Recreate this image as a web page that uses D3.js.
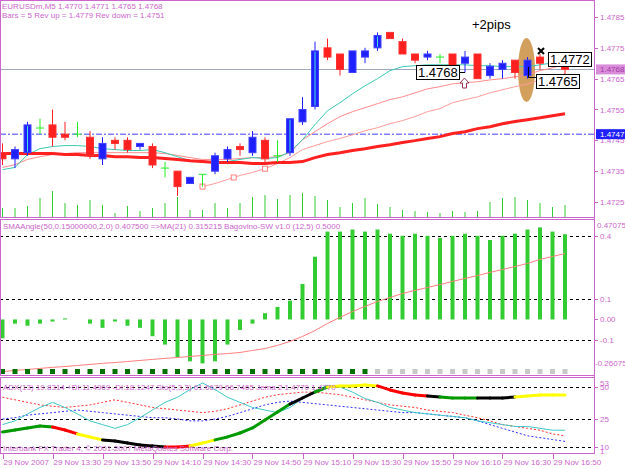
<!DOCTYPE html>
<html>
<head>
<meta charset="utf-8">
<script src="https://cdn.jsdelivr.net/npm/d3@7"></script>
<style>
  body { margin: 0; background: #fff; }
  svg { display: block; }
  text { font-family: "Liberation Sans", Arial, sans-serif; }
</style>
</head>
<body>
<div id="chart"></div>
<script>
// ===============================================================
// Data
// ===============================================================
const openP  = [1.4741,1.4739,1.4741,1.4749,1.4750,1.4747,1.4747,1.4746,1.4739,1.4745,1.4745,1.4743,1.4743,1.4736,1.4735,1.4731,1.4734,1.4735,1.4739,1.4743,1.4741,1.4745,1.4740,1.4741,1.4751,1.4756,1.4775,1.4773,1.4767,1.4772,1.4775,1.4780,1.4777,1.4773,1.4772,1.4772,1.4773,1.4770,1.4773,1.4766,1.4768,1.4771,1.4766,1.4772,1.4771,1.4770];
const highP  = [1.4744,1.4743,1.4751,1.4752,1.4755,1.4751,1.4751,1.4748,1.4746,1.4746,1.4746,1.4744,1.4744,1.4738,1.4735,1.4733,1.4734,1.4741,1.4743,1.4744,1.4748,1.4746,1.4745,1.4752,1.4759,1.4777,1.4778,1.4773,1.4774,1.4775,1.4780,1.4780,1.4778,1.4773,1.4774,1.4773,1.4773,1.4774,1.4773,1.4770,1.4771,1.4771,1.4772,1.4773,1.4772,1.4771];
const lowP   = [1.4737,1.4736,1.4740,1.4747,1.4743,1.4745,1.4746,1.4739,1.4737,1.4742,1.4741,1.4742,1.4736,1.4733,1.4727,1.4731,1.4730,1.4734,1.4738,1.4740,1.4740,1.4737,1.4738,1.4740,1.4750,1.4755,1.4771,1.4766,1.4767,1.4770,1.4774,1.4778,1.4773,1.4770,1.4771,1.4770,1.4765,1.4767,1.4765,1.4765,1.4765,1.4765,1.4765,1.4768,1.4770,1.4765];
const closeP = [1.4739,1.4742,1.4750,1.4749,1.4746,1.4746,1.4747,1.4740,1.4744,1.4744,1.4742,1.4744,1.4737,1.4736,1.4730,1.4733,1.4734,1.4740,1.4742,1.4742,1.4746,1.4739,1.4740,1.4752,1.4755,1.4774,1.4772,1.4768,1.4774,1.4774,1.4779,1.4778,1.4773,1.4771,1.4773,1.4772,1.4769,1.4772,1.4765,1.4769,1.4770,1.4767,1.4771,1.4770,1.4771,1.4768];
const volumes = [18,18,22,38,52,28,24,34,24,8,22,12,18,28,40,14,14,28,18,28,40,44,36,44,48,42,34,20,28,38,26,20,14,12,10,8,12,10,12,30,38,40,34,28,20,24];
const markedBars = [2,23,25,30];

const maFast  = [1.47355,1.47362,1.47404,1.47423,1.47430,1.47433,1.47433,1.47430,1.47423,1.47420,1.47417,1.47417,1.47420,1.47410,1.47397,1.47384,1.47378,1.47378,1.47381,1.47388,1.47394,1.47391,1.47394,1.47413,1.47452,1.47501,1.47546,1.47572,1.47601,1.47627,1.47650,1.47676,1.47689,1.47692,1.47695,1.47695,1.47695,1.47695,1.47692,1.47692,1.47689,1.47689,1.47689,1.47695,1.47701,1.47705];
const maMid   = [1.47362,1.47371,1.47388,1.47397,1.47404,1.47407,1.47410,1.47410,1.47410,1.47410,1.47410,1.47410,1.47410,1.47407,1.47401,1.47394,1.47388,1.47388,1.47388,1.47391,1.47394,1.47394,1.47397,1.47410,1.47452,1.47478,1.47504,1.47527,1.47543,1.47556,1.47569,1.47582,1.47591,1.47604,1.47617,1.47624,1.47633,1.47637,1.47640,1.47646,1.47650,1.47656,1.47663,1.47676,1.47685,1.47698];
const trailStart = 16;
const trailLine = [1.47300,1.47310,1.47323,1.47336,1.47346,1.47358,1.47375,1.47394,1.47420,1.47433,1.47446,1.47456,1.47468,1.47481,1.47491,1.47504,1.47514,1.47527,1.47543,1.47553,1.47572,1.47582,1.47591,1.47604,1.47614,1.47624,1.47633,1.47646,1.47656,1.47666];
const trailMarks = [16,18.5,21];
const maSlow  = [1.47407,1.47407,1.47407,1.47407,1.47407,1.47404,1.47404,1.47401,1.47401,1.47397,1.47397,1.47394,1.47394,1.47391,1.47388,1.47384,1.47381,1.47378,1.47378,1.47378,1.47375,1.47375,1.47378,1.47378,1.47381,1.47394,1.47404,1.47410,1.47417,1.47423,1.47430,1.47436,1.47443,1.47449,1.47456,1.47462,1.47472,1.47478,1.47488,1.47494,1.47504,1.47511,1.47517,1.47523,1.47530,1.47536];

const bidPrice = 1.4768;
const levelPrice = 1.4747;
const priceTicks = [1.4785,1.4775,1.4765,1.4755,1.4745,1.4735,1.4725];

// SMAAngle window
const angle = [-0.09,-0.02,-0.03,-0.02,-0.01,0.005,0,-0.02,-0.04,-0.01,-0.03,-0.04,-0.08,-0.12,-0.18,-0.20,-0.21,-0.20,-0.12,-0.05,-0.02,0.03,0.06,0.09,0.17,0.30,0.42,0.42,0.43,0.42,0.43,0.41,0.40,0.41,0.40,0.39,0.40,0.41,0.40,0.38,0.40,0.41,0.43,0.44,0.42,0.4075];
const angleMA = [-0.249,-0.244,-0.239,-0.234,-0.229,-0.225,-0.220,-0.215,-0.210,-0.206,-0.201,-0.196,-0.191,-0.186,-0.182,-0.177,-0.172,-0.167,-0.163,-0.158,-0.148,-0.139,-0.124,-0.105,-0.081,-0.053,-0.019,0.010,0.038,0.062,0.086,0.105,0.124,0.139,0.153,0.167,0.182,0.196,0.210,0.225,0.239,0.253,0.268,0.287,0.301,0.3152];
const swSignal = [1,1,1,1,1,1,1,1,1,1,1,1,1,1,1,1,1,1,1,1,1,1,1,1,1,1,1,1,1,1,0,0,0,0,0,0,0,0,0,0,0,0,0,0,0,0];
const angleLevels = [0.4, 0.1, -0.1];
const angleLabels = ["0.47075","0.4","0.1","0.00","-0.1","-0.26075"];

// ADX / Sto window
const trendLine = [18.0,19.1,20.2,21.3,20.7,19.1,17.0,15.4,13.8,13.2,12.1,11.1,10.5,10.0,10.0,10.5,12.1,13.8,15.4,17.5,20.2,24.5,30.5,36.7,41.4,46.1,50.0,50.8,50.8,51.5,50.8,47.7,45.3,43.8,43.0,42.2,41.4,41.4,41.4,41.4,41.4,42.2,43.0,43.8,43.8,43.8];
const trendColor = ["g","g","g","g","g","r","r","y","y","k","k","k","k","k","r","r","y","y","g","g","g","g","g","g","k","k","g","y","y","y","y","r","r","r","r","k","g","g","g","k","k","k","y","y","y","y"];
const stoLine = [22,24,29,34,38,34,29,24,22,20,22,26,32,38,42,48,53,48,42,38,34,32,30,34,41,47,51,50,46,41,38,34,32,30,29,28,27,26,24,23,22,21,21,20,19,19];
const plusDI  = [42,40,38,36,35,34,35,36,38,40,38,36,34,33,32,31,30,31,33,36,39,42,44,45,46,46,45,44,42,40,38,36,35,34,32,31,30,28,26,24,22,21,20,19,17,16];
const minusDI = [25,26,28,29,30,31,32,31,30,29,28,27,26,26,25,24,24,25,27,30,33,36,38,39,38,37,36,35,34,33,32,31,30,30,29,28,27,26,24,22,20,18,16,15,14,13];
const adxLevels = [50, 25, 10];

const dateLabel = "29 Nov 2007";
const tickTimes = ["13:30","13:50","14:10","14:30","14:50","15:10","15:30","15:50","16:10","16:30","16:50"];

// ===============================================================
// Layout
// ===============================================================
const W = 625, H = 469;
const plotRight = 594;
const fg = "#cc66cc";
const p1 = {top: 1, bottom: 218};
const p2 = {top: 220, bottom: 376};
const p3 = {top: 378, bottom: 454};

const svg = d3.select("#chart").append("svg").attr("width", W).attr("height", H);

const x = d3.scaleLinear().domain([0, 45]).range([2.5, 565]);
const yPrice = d3.scaleLinear().domain([1.4725, 1.4785]).range([202, 17]);
const yVol = d3.scaleLinear().domain([0, 60]).range([p1.bottom - 1, p1.bottom - 31]);
const yAng = d3.scaleLinear().domain([-0.26075, 0.47075]).range([374, 221]);
const yAdx = d3.scaleLinear().domain([1, 10, 25, 50, 53]).range([453, 447, 419, 387, 383]);

const bars = openP.map((o, i) => ({i, o, h: highP[i], l: lowP[i], c: closeP[i], v: volumes[i]}));

function clip(id, p) {
  svg.append("clipPath").attr("id", id).append("rect")
    .attr("x", 0).attr("y", p.top).attr("width", plotRight).attr("height", p.bottom - p.top);
}
clip("c1", p1); clip("c2", p2); clip("c3", p3);

// ---------------- Top window ----------------
const g1 = svg.append("g").attr("clip-path", "url(#c1)");

// volumes
g1.selectAll("line.vol").data(bars).join("line")
  .attr("x1", d => x(d.i)).attr("x2", d => x(d.i))
  .attr("y1", yVol(0)).attr("y2", d => yVol(d.v))
  .attr("stroke", "#33cc33").attr("stroke-width", 1);

// level lines
g1.append("line").attr("x1", 0).attr("x2", plotRight)
  .attr("y1", yPrice(levelPrice)).attr("y2", yPrice(levelPrice))
  .attr("stroke", "#4040ff").attr("stroke-dasharray", "6,2,2,2");
g1.append("line").attr("x1", 0).attr("x2", plotRight)
  .attr("y1", Math.round(yPrice(bidPrice)) + 0.5).attr("y2", Math.round(yPrice(bidPrice)) + 0.5)
  .attr("stroke", "#a0a8c0");

// orange ellipse
g1.append("ellipse").attr("cx", x(42) - 1).attr("cy", 70).attr("rx", 8.5).attr("ry", 32)
  .attr("fill", "#d2a05c");

// moving averages
const linePrice = d3.line().x((d, i) => x(i)).y(d => yPrice(d));
g1.append("path").attr("d", linePrice(maMid)).attr("fill", "none").attr("stroke", "#ff8c8c").attr("stroke-width", 1);
g1.append("path").attr("d", d3.line().x((d, i) => x(i + trailStart)).y(d => yPrice(d))(trailLine))
  .attr("fill", "none").attr("stroke", "#ff9c9c").attr("stroke-width", 1);
g1.selectAll("rect.tm").data(trailMarks).join("rect")
  .attr("x", d => x(d) - 2.5)
  .attr("y", d => yPrice(d3.interpolateNumber(trailLine[Math.floor(d) - trailStart], trailLine[Math.ceil(d) - trailStart])(d % 1)) - 2.5)
  .attr("width", 5).attr("height", 5).attr("fill", "#fff").attr("stroke", "#ff8080");
g1.append("path").attr("d", linePrice(maFast)).attr("fill", "none").attr("stroke", "#3cc8b4").attr("stroke-width", 1);
g1.append("path").attr("d", linePrice(maSlow)).attr("fill", "none").attr("stroke", "#ff2020").attr("stroke-width", 3);

// candles
const cg = g1.selectAll("g.candle").data(bars).join("g");
cg.append("line")
  .attr("x1", d => x(d.i)).attr("x2", d => x(d.i))
  .attr("y1", d => yPrice(d.h)).attr("y2", d => yPrice(d.l))
  .attr("stroke", d => d.c > d.o ? "#2020ff" : d.c < d.o ? "#ff2020" : "#22ee22");
cg.filter(d => d.c !== d.o).append("rect")
  .attr("x", d => x(d.i) - 3.5)
  .attr("y", d => yPrice(Math.max(d.o, d.c)))
  .attr("width", 7)
  .attr("height", d => Math.abs(yPrice(d.o) - yPrice(d.c)))
  .attr("fill", d => d.c > d.o ? "#2020ff" : "#ff2020")
  .attr("stroke", d => d.c > d.o ? "#4040ff" : "#ff3030");
cg.filter(d => d.c === d.o).append("line")
  .attr("x1", d => x(d.i) - 4).attr("x2", d => x(d.i) + 4)
  .attr("y1", d => yPrice(d.o)).attr("y2", d => yPrice(d.o))
  .attr("stroke", "#22ee22");
cg.filter(d => markedBars.includes(d.i)).append("line")
  .attr("x1", d => x(d.i)).attr("x2", d => x(d.i))
  .attr("y1", d => yPrice(d.c) + 1).attr("y2", d => yPrice(d.o) - 1)
  .attr("stroke", "#40e0e0");

// annotations
g1.append("text").attr("x", 472).attr("y", 29).attr("font-size", 13).attr("fill", "#000").text("+2pips");
function priceBox(px, py, w, label) {
  g1.append("rect").attr("x", px + 0.5).attr("y", py + 0.5).attr("width", w).attr("height", 14)
    .attr("fill", "#fff").attr("stroke", "#000");
  g1.append("text").attr("x", px + 2).attr("y", py + 12).attr("font-size", 13).attr("fill", "#000").text(label);
}
g1.append("polyline").attr("points", "457,72.5 465,72.5").attr("stroke", "#000").attr("fill", "none");
g1.append("polyline").attr("points", "528.5,67 528.5,77.5 536,77.5").attr("stroke", "#000").attr("fill", "none");
priceBox(416, 65, 43, "1.4768");
priceBox(548, 52, 43, "1.4772");
priceBox(536, 74, 43, "1.4765");
g1.append("path").attr("d", "M538,48 L544,54 M544,48 L538,54").attr("stroke", "#000").attr("stroke-width", 2);
g1.append("path").attr("d", "M464.5,78 L469,83 L466.5,83 L466.5,88 L462.5,88 L462.5,83 L460,83 Z")
  .attr("fill", "#fff").attr("stroke", "#993355");

// header texts
svg.append("text").attr("x", 2).attr("y", 9).attr("font-size", 8).attr("fill", fg)
  .text("EURUSDm,M5  1.4770 1.4771 1.4765 1.4768");
svg.append("text").attr("x", 2).attr("y", 18).attr("font-size", 8).attr("fill", fg)
  .text("Bars = 5 Rev up =  1.4779 Rev down = 1.4751");

// ---------------- Middle window ----------------
const g2 = svg.append("g").attr("clip-path", "url(#c2)");
g2.selectAll("line.lvl").data(angleLevels).join("line")
  .attr("x1", 0).attr("x2", plotRight)
  .attr("y1", d => Math.round(yAng(d)) + 0.5).attr("y2", d => Math.round(yAng(d)) + 0.5)
  .attr("stroke", "#000").attr("stroke-dasharray", "3,3");
g2.selectAll("line.hist").data(angle).join("line")
  .attr("x1", (d, i) => x(i)).attr("x2", (d, i) => x(i))
  .attr("y1", yAng(0)).attr("y2", d => yAng(d))
  .attr("stroke", "#33cc33").attr("stroke-width", 4);
g2.append("path").attr("d", d3.line().x((d, i) => x(i)).y(d => yAng(d))(angleMA))
  .attr("fill", "none").attr("stroke", "#ff8080");
g2.selectAll("rect.sw").data(swSignal).join("rect")
  .attr("x", (d, i) => x(i) - 2.5).attr("y", yAng(-0.26075) - 5)
  .attr("width", 5).attr("height", 5)
  .attr("fill", d => d ? "#007000" : "#c8c8c8");
svg.append("text").attr("x", 3).attr("y", 229).attr("font-size", 8).attr("fill", fg)
  .text("SMAAngle(50,0.15000000,2.0) 0.407500   =>MA(21) 0.315215  Bagovino-SW v1.0 (12,5) 0.5000");

// ---------------- Bottom window ----------------
const g3 = svg.append("g").attr("clip-path", "url(#c3)");
g3.selectAll("line.lvl").data(adxLevels).join("line")
  .attr("x1", 0).attr("x2", plotRight)
  .attr("y1", d => Math.round(yAdx(d)) + 0.5).attr("y2", d => Math.round(yAdx(d)) + 0.5)
  .attr("stroke", "#000").attr("stroke-dasharray", "3,3");
const lineAdx = d3.line().x((d, i) => x(i)).y(d => yAdx(d));
g3.append("path").attr("d", lineAdx(plusDI)).attr("fill", "none").attr("stroke", "#ff3030").attr("stroke-dasharray", "2,2");
g3.append("path").attr("d", lineAdx(minusDI)).attr("fill", "none").attr("stroke", "#3030ff").attr("stroke-dasharray", "2,2");
g3.append("path").attr("d", lineAdx(stoLine)).attr("fill", "none").attr("stroke", "#40c8c8");
const colorMap = {g: "#009900", r: "#ff0000", y: "#ffff00", k: "#000000"};
g3.selectAll("line.trend").data(d3.range(1, trendLine.length)).join("line")
  .attr("x1", i => x(i - 1)).attr("x2", i => x(i))
  .attr("y1", i => yAdx(trendLine[i - 1])).attr("y2", i => yAdx(trendLine[i]))
  .attr("stroke", i => colorMap[trendColor[i]]).attr("stroke-width", 3).attr("stroke-linecap", "round");
svg.append("text").attr("x", 3).attr("y", 390).attr("font-size", 8).attr("fill", fg)
  .text("ADX(13) 19.8314 +DI:11.4969 -DI:18.1247 Sto(5,3,3) 61.6679 66.7465 Jema 2 1.4770 1.4770");
svg.append("text").attr("x", 3).attr("y", 451).attr("font-size", 8).attr("fill", fg)
  .text("Interbank FX Trader 4, \u00a9 2001-2007 MetaQuotes Software Corp.");

// ---------------- Frames ----------------
[p1, p2, p3].forEach(p => {
  svg.append("rect").attr("x", 0.5).attr("y", p.top - 0.5).attr("width", plotRight)
    .attr("height", p.bottom - p.top).attr("fill", "none").attr("stroke", fg);
});
svg.append("line").attr("x1", plotRight + 0.5).attr("x2", plotRight + 0.5).attr("y1", 0).attr("y2", p3.bottom)
  .attr("stroke", fg);

// right axis labels
function axisLabel(yy, label, tick = true, dx = 6) {
  if (tick) svg.append("line").attr("x1", plotRight).attr("x2", plotRight + 4)
    .attr("y1", Math.round(yy) + 0.5).attr("y2", Math.round(yy) + 0.5).attr("stroke", fg);
  svg.append("text").attr("x", plotRight + dx).attr("y", yy + 3).attr("font-size", 8).attr("fill", fg).text(label);
}
priceTicks.forEach(p => axisLabel(yPrice(p), d3.format(".4f")(p)));
// bid and level boxes
[[bidPrice, "#d98cd9", "#a33ca3"], [levelPrice, "#2020ff", "#ffffff"]].forEach(([p, bg, tc]) => {
  const yy = yPrice(p);
  svg.append("rect").attr("x", plotRight + 2).attr("y", yy - 5).attr("width", 29).attr("height", 10).attr("fill", bg);
  svg.append("text").attr("x", plotRight + 6).attr("y", yy + 3).attr("font-size", 8).attr("fill", tc).text(d3.format(".4f")(p));
});

axisLabel(yAng(0.47075) + 4, angleLabels[0], false, 3);
axisLabel(yAng(0.4), angleLabels[1]);
axisLabel(yAng(0.1), angleLabels[2]);
axisLabel(yAng(0), angleLabels[3]);
axisLabel(yAng(-0.1), angleLabels[4]);
axisLabel(yAng(-0.26075) - 11, angleLabels[5], false, 1);

axisLabel(yAdx(53), "53", false);
adxLevels.forEach(v => axisLabel(yAdx(v), String(v)));
axisLabel(yAdx(1) - 2, "1", false);

// time axis
const tickData = [{i: 0, label: dateLabel}].concat(tickTimes.map((t, k) => ({i: (k + 1) * 4, label: "29 Nov " + t})));
svg.selectAll("line.xt").data(tickData).join("line")
  .attr("x1", d => Math.round(x(d.i)) + 0.5).attr("x2", d => Math.round(x(d.i)) + 0.5)
  .attr("y1", p3.bottom).attr("y2", p3.bottom + 5).attr("stroke", fg);
svg.selectAll("text.xt").data(tickData).join("text")
  .attr("x", d => x(d.i) + 1).attr("y", 465).attr("font-size", 8).attr("fill", fg)
  .text(d => d.label);
</script>
</body>
</html>
